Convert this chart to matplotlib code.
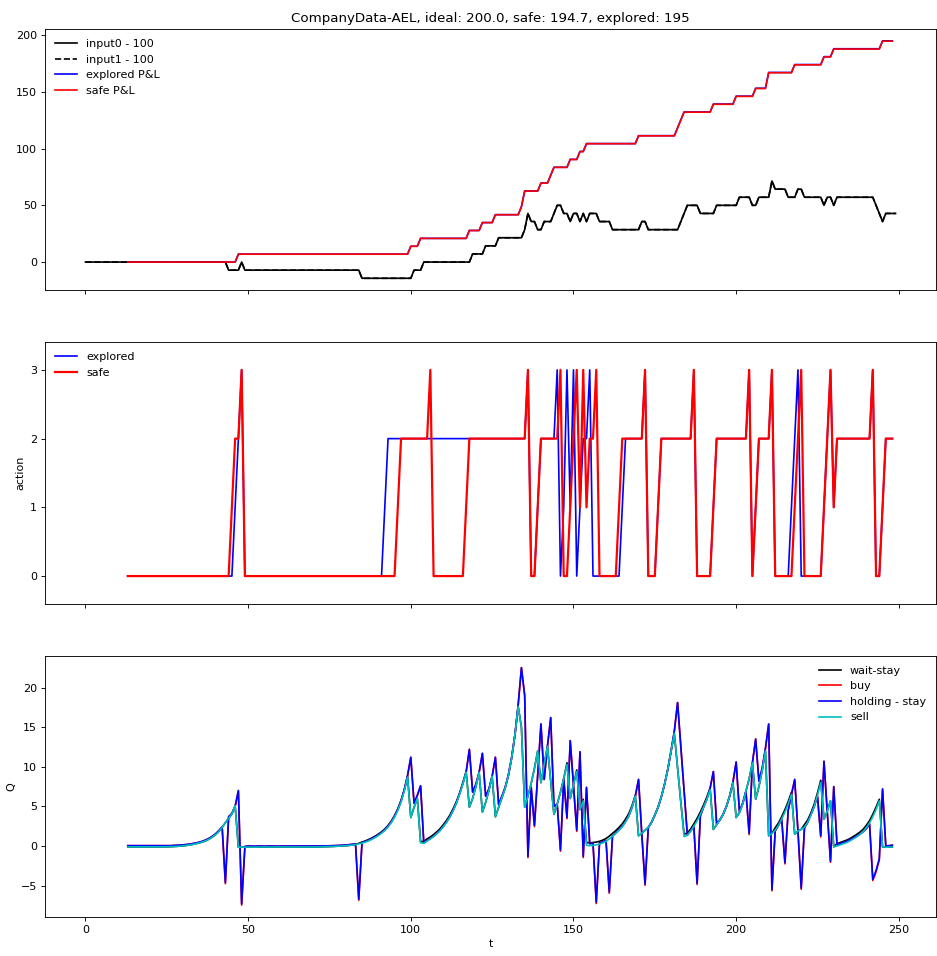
import numpy as np
import matplotlib
matplotlib.use('Agg')
from matplotlib import pyplot as plt


# price minus 100, stored as (level, number of steps)
input0_values = [0, -7.14, 0, -7.14, -14.29, -7.14, 0, 7.14, 14.29, 21.43, 28.57, 42.86, 35.71, 28.57,
                 35.71, 42.86, 50.0, 42.86, 35.71, 42.86, 35.71, 42.86, 35.71, 42.86, 35.71, 28.57, 35.71,
                 28.57, 35.71, 42.86, 50.0, 42.86, 50.0, 57.14, 50.0, 57.14, 71.43, 64.29, 57.14, 64.29,
                 57.14, 50.0, 57.14, 50.0, 57.14, 50.0, 42.86, 35.71, 42.86]
input0_counts = [44, 4, 1, 36, 16, 3, 15, 4, 4, 8, 1, 1, 2, 2, 3, 1, 2, 2, 1, 2, 1, 1, 1, 3, 4, 9, 2, 10,
                 1, 1, 4, 5, 7, 4, 2, 4, 1, 4, 3, 2, 6, 1, 2, 1, 12, 1, 1, 1, 4]

pnl_counts = [34, 53, 3, 15, 4, 4, 8, 1, 5, 3, 1, 5, 3, 2, 16, 12, 1, 1, 9, 7, 6, 4, 8, 9, 3, 15, 4]
safe_pnl_values = [0, 6.95, 13.91, 20.86, 27.82, 34.77, 41.72, 48.68, 62.59, 69.54, 76.49, 83.45, 90.40,
                   97.36, 104.31, 111.26, 118.22, 125.17, 132.13, 139.08, 146.03, 152.99, 166.90, 173.85,
                   180.80, 187.76, 194.70]
explored_pnl_values = [0, 6.96, 13.93, 20.89, 27.86, 34.82, 41.79, 48.75, 62.68, 69.64, 76.61, 83.57,
                       90.54, 97.50, 104.46, 111.43, 118.39, 125.36, 132.32, 139.29, 146.25, 153.21,
                       167.14, 174.11, 181.07, 188.04, 195.00]

safe_act_values = [0, 1, 2, 3, 0, 1, 2, 3, 0, 1, 2, 3, 0, 1, 2, 3, 0, 1, 2, 3, 1, 3, 1, 2, 3, 0, 1, 2, 3,
                   0, 1, 2, 3, 0, 1, 2, 3, 0, 1, 2, 3, 0, 1, 2, 3, 0, 1, 2, 3, 1, 2, 3, 0, 1, 2]
safe_act_counts = [32, 1, 2, 1, 47, 1, 9, 1, 10, 1, 18, 1, 2, 1, 6, 1, 2, 1, 1, 1, 1, 1, 1, 2, 1, 6, 1, 7,
                   1, 3, 1, 10, 1, 5, 1, 10, 1, 1, 1, 4, 1, 6, 1, 1, 1, 6, 1, 1, 1, 1, 11, 1, 2, 1, 3]
explored_act_values = [0, 1, 2, 3, 0, 1, 2, 3, 0, 1, 2, 3, 0, 1, 3, 1, 3, 0, 1, 2, 3, 0, 1, 2, 3, 0, 1,
                       2, 3, 0, 1, 2, 3, 0, 1, 2, 3, 0, 1, 2, 3, 0, 1, 2, 3, 1, 2, 3, 0, 1, 2]
explored_act_counts = [33, 1, 1, 1, 43, 1, 43, 1, 2, 1, 5, 1, 1, 1, 1, 1, 1, 1, 1, 2, 1, 9, 1, 6, 1, 3,
                       1, 10, 1, 5, 1, 10, 1, 1, 1, 4, 1, 5, 1, 1, 1, 7, 1, 1, 1, 1, 11, 1, 2, 1, 3]

# Q values, t = 13 .. 248
holding_stay = [
    0.05, 0.05, 0.04, 0.04, 0.04, 0.05, 0.05,
    0.05, 0.05, 0.05, 0.05, 0.05, 0.05, 0.05, 0.07, 0.09, 0.12,
    0.15, 0.19, 0.24, 0.31, 0.39, 0.49, 0.61, 0.78, 0.98, 1.23,
    1.55, 1.95, 2.42, -4.6, 3.7, 4.1, 5.0, 7.0, -7.3, -0.05,
    0.0, 0.0, -0.02, 0.0, 0.0, -0.02, 0.0, 0.0, 0.0, -0.02,
    0.0, 0.0, 0.0, 0.0, 0.0, 0.0, 0.0, 0.0, 0.0, 0.0,
    0.0, 0.0, 0.0, 0.01, 0.02, 0.03, 0.04, 0.06, 0.08, 0.1,
    0.13, 0.17, 0.22, 0.28, -6.7, 0.45, 0.58, 0.74, 0.93, 1.15,
    1.4, 1.7, 2.05, 2.5, 3.05, 3.75, 4.6, 5.7, 7.1, 8.9,
    11.2, 5.4, 6.4, 7.6, 0.35, 0.7, 0.95, 1.25, 1.6, 2.0,
    2.5, 3.05, 3.7, 4.5, 5.45, 6.6, 7.9, 9.3, 12.2, 6.8,
    7.8, 9.3, 11.7, 6.3, 7.2, 8.8, 11.2, 5.2, 6.3, 7.4,
    9.0, 11.2, 14.0, 17.8, 22.5, 19.0, -1.3, 7.4, 2.6, 9.0,
    15.4, 8.4, 12.6, 16.2, 5.0, 5.3, -0.5, 8.5, 3.6, 13.3,
    7.7, 2.0, 11.9, -1.3, 7.4, 0.3, 0.35, -7.1, 0.4, 0.5,
    0.7, -5.8, 1.3, 1.65, 2.05, 2.5, 3.1, 3.8, 4.9, 6.3,
    8.4, 1.5, -4.8, 2.35, 3.0, 3.9, 4.9, 6.2, 7.8, 9.7,
    12.0, 14.5, 18.1, 12.5, 6.8, 1.4, 1.9, 2.5, -4.7, 3.8,
    4.9, 5.9, 7.3, 9.4, 2.8, 3.3, 4.0, 5.0, 6.3, 8.0,
    10.6, 4.4, 5.4, 6.9, 1.6, 10.5, 13.5, 8.2, 9.8, 12.3,
    15.4, -5.5, 1.9, 2.6, 3.4, -2.1, 4.5, 6.5, 8.4, 1.9,
    -5.3, 2.3, 3.0, 4.0, 5.0, 6.3, 1.3, 10.7, 4.4, -1.9,
    7.5, 0.2, 0.3, 0.45, 0.6, 0.8, 1.0, 1.25, 1.5, 1.8,
    2.2, 2.8, -4.2, -3.1, -1.6, 7.2, 0.0, 0.05, 0.1]

buy = [
    0.05, 0.05, 0.04, 0.04, 0.04, 0.05, 0.05,
    0.05, 0.05, 0.05, 0.05, 0.05, 0.05, 0.05, 0.07, 0.09, 0.12,
    0.15, 0.19, 0.24, 0.31, 0.39, 0.49, 0.61, 0.78, 0.98, 1.23,
    1.55, 1.95, 2.42, -4.75, 3.7, 4.1, 5.0, 7.0, -7.45, -0.05,
    0.0, 0.0, -0.02, 0.0, 0.0, -0.02, 0.0, 0.0, 0.0, -0.02,
    0.0, 0.0, 0.0, 0.0, 0.0, 0.0, 0.0, 0.0, 0.0, 0.0,
    0.0, 0.0, 0.0, 0.01, 0.02, 0.03, 0.04, 0.06, 0.08, 0.1,
    0.13, 0.17, 0.22, 0.28, -6.85, 0.45, 0.58, 0.74, 0.93, 1.15,
    1.4, 1.7, 2.05, 2.5, 3.05, 3.75, 4.6, 5.7, 7.1, 8.9,
    11.2, 5.4, 6.4, 7.6, 0.35, 0.7, 0.95, 1.25, 1.6, 2.0,
    2.5, 3.05, 3.7, 4.5, 5.45, 6.6, 7.9, 9.3, 12.2, 6.8,
    7.8, 9.3, 11.7, 6.3, 7.2, 8.8, 11.2, 5.2, 6.3, 7.4,
    9.0, 11.2, 14.0, 17.8, 22.5, 19.0, -1.45, 7.4, 2.45, 9.0,
    15.4, 8.4, 12.6, 16.2, 5.0, 5.3, -0.65, 8.5, 3.45, 13.3,
    7.7, 1.85, 11.9, -1.45, 7.4, 0.3, 0.35, -7.25, 0.4, 0.5,
    0.7, -5.95, 1.3, 1.65, 2.05, 2.5, 3.1, 3.8, 4.9, 6.3,
    8.4, 1.5, -4.95, 2.35, 3.0, 3.9, 4.9, 6.2, 7.8, 9.7,
    12.0, 14.5, 18.1, 12.5, 6.8, 1.4, 1.9, 2.5, -4.85, 3.8,
    4.9, 5.9, 7.3, 9.4, 2.8, 3.3, 4.0, 5.0, 6.3, 8.0,
    10.6, 4.4, 5.4, 6.9, 1.45, 10.5, 13.5, 8.2, 9.8, 12.3,
    15.4, -5.65, 1.9, 2.6, 3.4, -2.25, 4.5, 6.5, 8.4, 1.9,
    -5.45, 2.3, 3.0, 4.0, 5.0, 6.3, 1.15, 10.7, 4.4, -2.05,
    7.5, 0.2, 0.3, 0.45, 0.6, 0.8, 1.0, 1.25, 1.5, 1.8,
    2.2, 2.8, -4.35, -3.25, -1.75, 7.2, 0.0, 0.05, 0.1]

sell = [
    -0.1, -0.1, -0.11, -0.11, -0.1, -0.1, -0.1,
    -0.1, -0.1, -0.1, -0.1, -0.1, -0.09, -0.08, -0.06, -0.04, -0.01,
    0.03, 0.08, 0.14, 0.21, 0.3, 0.4, 0.52, 0.68, 0.88, 1.13,
    1.45, 1.85, 2.35, 2.95, 3.5, 4.05, 5.1, -0.15, -0.12, -0.15,
    -0.12, -0.13, -0.14, -0.12, -0.12, -0.13, -0.12, -0.12, -0.13, -0.12,
    -0.12, -0.12, -0.12, -0.13, -0.12, -0.12, -0.12, -0.12, -0.12, -0.12,
    -0.12, -0.11, -0.1, -0.09, -0.08, -0.07, -0.05, -0.03, -0.01, 0.01,
    0.04, 0.08, 0.13, 0.19, 0.27, 0.37, 0.5, 0.65, 0.84, 1.06,
    1.32, 1.62, 1.97, 2.4, 2.95, 3.65, 4.5, 5.55, 6.95, 8.7,
    3.6, 4.9, 6.0, 0.4, 0.35, 0.62, 0.9, 1.2, 1.55, 1.95,
    2.45, 3.0, 3.65, 4.45, 5.4, 6.55, 7.85, 9.3, 4.9, 6.0,
    7.5, 9.3, 4.3, 5.5, 7.0, 8.8, 3.7, 4.9, 6.1, 7.3,
    8.9, 11.1, 14.0, 17.6, 15.0, 4.9, 6.3, 7.9, 9.8, 12.0,
    8.0, 10.3, 12.6, 8.2, 4.0, 5.3, 6.8, 8.5, 10.3, 6.0,
    7.7, 9.4, 4.6, 5.7, 0.1, 0.05, 0.1, 0.15, 0.25, 0.4,
    0.6, 0.9, 1.25, 1.6, 2.0, 2.45, 3.05, 3.8, 4.9, 6.3,
    1.3, 1.6, 2.0, 2.35, 3.0, 3.9, 4.9, 6.2, 7.8, 9.7,
    12.0, 14.2, 9.9, 5.5, 1.2, 1.35, 1.85, 2.5, 3.2, 4.0,
    4.9, 5.9, 7.1, 2.1, 2.7, 3.3, 4.0, 5.0, 6.3, 8.0,
    3.6, 4.2, 5.3, 6.9, 8.5, 10.5, 5.9, 7.5, 9.5, 12.0,
    1.3, 1.6, 2.0, 2.6, 3.4, 4.3, 5.3, 6.5, 1.5, 1.9,
    2.1, 2.4, 3.0, 3.9, 5.0, 6.4, 8.0, 3.4, 4.4, 5.7,
    -0.1, 0.0, 0.15, 0.3, 0.45, 0.65, 0.9, 1.15, 1.45, 1.8,
    2.3, 2.9, 3.7, 4.6, 5.7, -0.1, -0.15, -0.12, -0.12]

wait_stay = [
    -0.1, -0.1, -0.11, -0.11, -0.1, -0.1, -0.1,
    -0.1, -0.1, -0.1, -0.1, -0.1, -0.09, -0.08, -0.06, -0.04, -0.01,
    0.03, 0.08, 0.14, 0.21, 0.3, 0.4, 0.52, 0.68, 0.88, 1.13,
    1.45, 1.85, 2.35, 2.95, 3.5, 4.05, 5.1, -0.15, -0.12, -0.15,
    -0.12, -0.13, -0.14, -0.12, -0.12, -0.13, -0.12, -0.12, -0.13, -0.12,
    -0.12, -0.12, -0.12, -0.13, -0.12, -0.12, -0.12, -0.12, -0.12, -0.12,
    -0.12, -0.11, -0.1, -0.09, -0.08, -0.07, -0.05, -0.03, -0.01, 0.01,
    0.04, 0.08, 0.13, 0.19, 0.35, 0.5, 0.65, 0.82, 1.02, 1.25,
    1.5, 1.8, 2.15, 2.6, 3.15, 3.85, 4.7, 5.75, 7.1, 8.8,
    3.6, 4.9, 6.0, 0.55, 0.6, 0.9, 1.15, 1.45, 1.8, 2.2,
    2.7, 3.25, 3.9, 4.7, 5.6, 6.7, 8.0, 9.4, 4.9, 6.0,
    7.5, 9.3, 4.3, 5.5, 7.0, 8.8, 3.7, 4.9, 6.1, 7.3,
    8.9, 11.1, 14.0, 17.6, 15.0, 4.9, 6.3, 7.9, 9.8, 12.0,
    8.0, 10.3, 12.6, 8.2, 4.0, 5.3, 6.8, 8.5, 10.5, 6.0,
    7.7, 9.6, 4.6, 5.9, 0.45, 0.4, 0.45, 0.5, 0.6, 0.75,
    0.95, 1.25, 1.6, 1.95, 2.35, 2.8, 3.4, 4.1, 5.1, 6.4,
    1.3, 1.6, 2.0, 2.35, 3.0, 3.9, 4.9, 6.2, 7.8, 9.7,
    12.0, 14.2, 9.9, 5.5, 1.5, 1.65, 2.15, 2.8, 3.5, 4.3,
    5.2, 6.2, 7.3, 2.1, 2.7, 3.3, 4.0, 5.0, 6.3, 8.0,
    3.6, 4.2, 5.3, 6.9, 8.5, 10.5, 5.9, 7.5, 9.5, 12.0,
    1.3, 1.6, 2.3, 2.9, 3.7, 4.6, 5.6, 6.8, 1.5, 1.9,
    2.1, 2.7, 3.3, 4.2, 5.3, 6.7, 8.3, 3.4, 4.4, 5.7,
    -0.1, 0.3, 0.45, 0.6, 0.75, 0.95, 1.2, 1.45, 1.75, 2.1,
    2.6, 3.2, 4.0, 4.9, 5.9, -0.1, -0.15, -0.12, -0.12]

title = 'CompanyData-AEL, ideal: 200.0, safe: 194.7, explored: 195'


def expand(values, counts):
    return np.repeat(np.array(values, dtype=float), counts)


t_all = np.arange(0, 250)
t_run = np.arange(13, 249)

input0 = expand(input0_values, input0_counts)
safe_pnl = expand(safe_pnl_values, pnl_counts)
explored_pnl = expand(explored_pnl_values, pnl_counts)
safe_act = expand(safe_act_values, safe_act_counts)
explored_act = expand(explored_act_values, explored_act_counts)

# the original was drawn at 80 dpi, so fonts and lines come out smaller
fig, axes = plt.subplots(3, 1, sharex=True, figsize=(937 / 80, 956 / 80), dpi=80)
plt.subplots_adjust(left=0.048, right=0.999, top=0.9697, bottom=0.0408, hspace=0.2)

ax = axes[0]
ax.plot(t_all, input0, 'k', label='input0 - 100')
ax.plot(t_all, input0, 'k--', label='input1 - 100')
ax.plot(t_run, explored_pnl, 'b', label='explored P&L')
ax.plot(t_run, safe_pnl, 'r', label='safe P&L')
ax.set_title(title)
ax.legend(loc='upper left', frameon=False)

ax = axes[1]
ax.plot(t_run, explored_act, 'b', label='explored')
ax.plot(t_run, safe_act, 'r', lw=2, label='safe')
ax.set_ylim(-0.4, 3.4)
ax.set_yticks([0, 1, 2, 3])
ax.set_ylabel('action')
ax.legend(loc='upper left', frameon=False)

ax = axes[2]
ax.plot(t_run, wait_stay, 'k', label='wait-stay')
ax.plot(t_run, buy, 'r', label='buy')
ax.plot(t_run, holding_stay, 'b', label='holding - stay')
ax.plot(t_run, sell, 'c', label='sell')
ax.set_ylabel('Q')
ax.set_xlabel('t')
ax.legend(loc='upper right', frameon=False)

plt.savefig('out.png', dpi=80)
